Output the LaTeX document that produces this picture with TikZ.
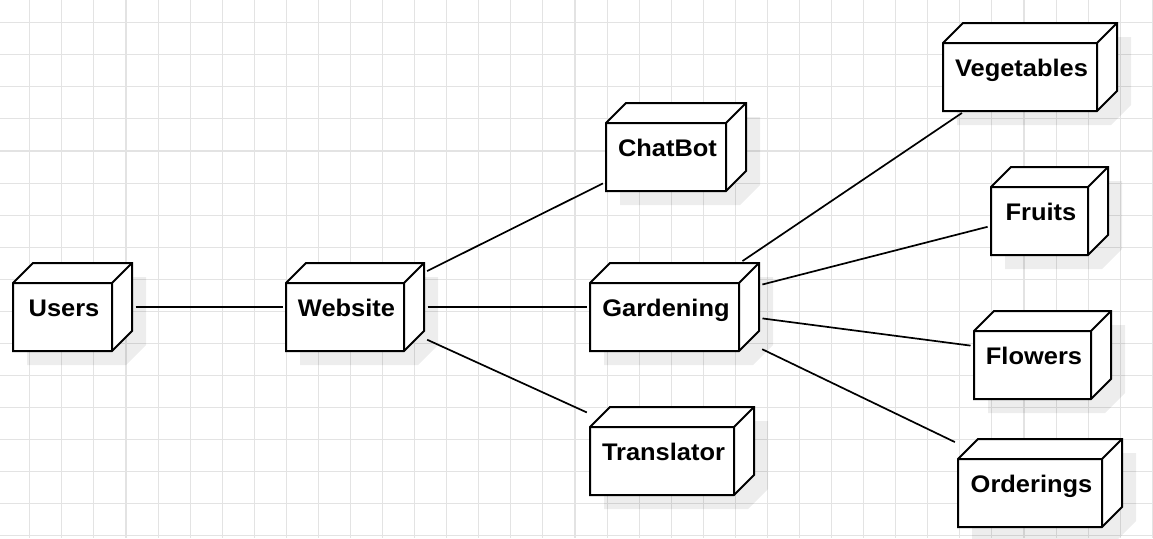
\documentclass[tikz,border=0pt]{standalone}
\usepackage{fontspec}
\setmainfont{Liberation Sans}
\newfontfamily\lblfont[FakeStretch=1.06]{Liberation Sans}
\usetikzlibrary{calc}
\pgfdeclarelayer{gridlayer}
\pgfdeclarelayer{shapes}
\pgfsetlayers{gridlayer,shapes,main}
\tikzset{
  cubenode/.style={rectangle, inner sep=0pt, outer sep=0pt, minimum height=88pt, minimum width=#1},
  lbl/.style={font=\lblfont\fontsize{24}{28}\selectfont\bfseries, inner sep=0pt, text height=18pt, text depth=0pt, xshift=-8.5pt},
  cubeline/.style={draw=black, fill=white, line width=2pt, line join=miter},
  cubeshadow/.style={fill=black, fill opacity=0.07},
  conn/.style={draw=black, line width=1.7pt, shorten <=3.5pt, shorten >=3.5pt},
  gridline/.style={draw=black!11, line width=1.1pt}
}
\newcommand\cubedraw[1]{%
  \fill[cubeshadow] ($(#1.north west)+(14,34)$) -- ($(#1.north west)+(34,14)$) -- ($(#1.north east)+(14,14)$) -- ($(#1.south east)+(14,-6)$) -- ($(#1.south east)+(-6,14)$) -- ($(#1.south west)+(14,14)$) -- cycle;
  \filldraw[cubeline] ($(#1.north west)+(0,20)$) -- ($(#1.north west)+(20,0)$) -- (#1.north east) -- ($(#1.south east)+(0,-20)$) -- ($(#1.south east)+(-20,0)$) -- (#1.south west) -- cycle;
  \draw[cubeline, fill=none] ($(#1.north west)+(0,20)$) -- ($(#1.north east)+(-20,20)$) -- ($(#1.south east)+(-20,0)$) ($(#1.north east)+(-20,20)$) -- (#1.north east);
}
\begin{document}
\begin{tikzpicture}[x=1pt, y=-1pt]
\useasboundingbox (0,0) rectangle (1153,538);
\begin{pgfonlayer}{gridlayer}
  \fill[white] (0,0) rectangle (1153,538);
  \foreach \k in {0,...,35} {\draw[gridline] ({29.8+32.07*\k},0) -- ({29.8+32.07*\k},538);}
  \foreach \k in {0,...,16} {\draw[gridline] (0,{22.7+32.07*\k}) -- (1153,{22.7+32.07*\k});}
\end{pgfonlayer}

\node[cubenode=119pt, label={[lbl]center:Users}] (users) at (72.5,307) {};
\node[cubenode=138pt, label={[lbl]center:Website}] (website) at (355,307) {};
\node[cubenode=140pt, label={[lbl]center:ChatBot}] (chatbot) at (676,147) {};
\node[cubenode=169pt, label={[lbl]center:Gardening}] (gardening) at (674.5,307) {};
\node[cubenode=164pt, label={[lbl]center:Translator}] (translator) at (672,451) {};
\node[cubenode=174pt, label={[lbl]center:Vegetables}] (vegetables) at (1030,67) {};
\node[cubenode=117pt, label={[lbl]center:Fruits}] (fruits) at (1049.5,211) {};
\node[cubenode=137pt, label={[lbl]center:Flowers}] (flowers) at (1042.5,355) {};
\node[cubenode=164pt, label={[lbl]center:Orderings}] (orderings) at (1040,483) {};

\begin{pgfonlayer}{shapes}
  \foreach \n in {users,website,chatbot,gardening,translator,vegetables,fruits,flowers,orderings} {\cubedraw{\n}}
\end{pgfonlayer}

\draw[conn] (users) -- (website);
\draw[conn] (website) -- (chatbot);
\draw[conn] (website) -- (gardening);
\draw[conn] (website) -- (translator);
\draw[conn] (gardening) -- (vegetables);
\draw[conn] (gardening) -- (fruits);
\draw[conn] (gardening) -- (flowers);
\draw[conn] (gardening) -- (orderings);
\end{tikzpicture}
\end{document}
